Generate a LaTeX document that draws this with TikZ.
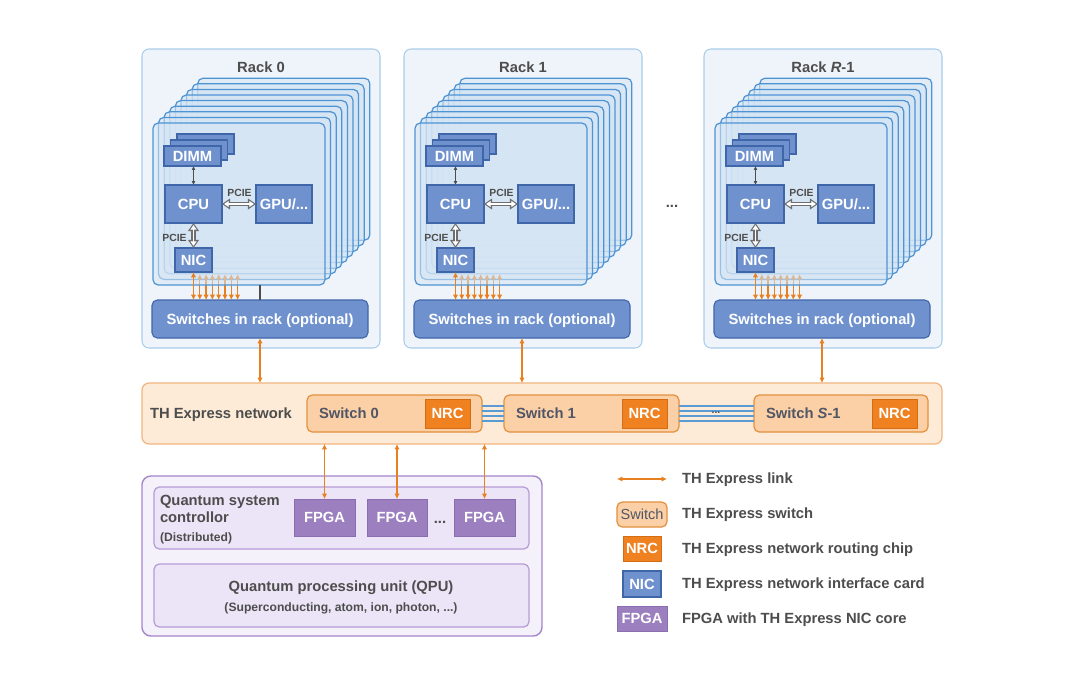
\documentclass[tikz,border=0pt]{standalone}
\usepackage{fontspec}
\setmainfont{Liberation Sans}
\usetikzlibrary{arrows.meta,fit}
\definecolor{txt}{HTML}{4D4D4D}
\definecolor{swtxt}{HTML}{505666}
\definecolor{rackfill}{HTML}{EEF4FA}
\definecolor{rackdraw}{HTML}{A9CDEB}
\definecolor{cardfill}{HTML}{D5E5F4}
\definecolor{carddraw}{HTML}{4E94D4}
\definecolor{bluefill}{HTML}{6F92CF}
\definecolor{bluedraw}{HTML}{3F66A9}
\definecolor{orangeA}{HTML}{E8801F}
\definecolor{netfill}{HTML}{FDEBD8}
\definecolor{netdraw}{HTML}{F2B47E}
\definecolor{swfill}{HTML}{FBD0A6}
\definecolor{swdraw}{HTML}{E3903F}
\definecolor{nrcfill}{HTML}{F08120}
\definecolor{nrcdraw}{HTML}{D46E14}
\definecolor{qfill}{HTML}{F5F1FA}
\definecolor{qdraw}{HTML}{A485CB}
\definecolor{qinfill}{HTML}{ECE4F7}
\definecolor{qindraw}{HTML}{B59CD7}
\definecolor{fpgafill}{HTML}{9B7FBE}
\definecolor{fpgadraw}{HTML}{8B6DB1}
\definecolor{linkblue}{HTML}{5B9BD5}
\definecolor{pciegray}{HTML}{6E6E6E}
\begin{document}
\begin{tikzpicture}[x=0.02cm,y=-0.02cm,
  every node/.style={inner sep=0pt,outer sep=0pt,text height=6pt,text depth=0pt},
  font=\fontsize{8.4}{10}\selectfont\bfseries, text=txt,
  sz/.style 2 args={minimum width=#1*0.02cm,minimum height=#2*0.02cm},
  ts/.style={font=\fontsize{5.9}{7}\selectfont\bfseries,text height=4.2pt},
  tm/.style={font=\fontsize{6.9}{8}\selectfont\bfseries,text height=4.9pt},
  rackbox/.style={draw=rackdraw,fill=rackfill,rounded corners=4pt,line width=0.6pt},
  card/.style={draw=carddraw,fill=cardfill,fill opacity=0.55,rounded corners=3pt,line width=0.7pt},
  comp/.style={draw=bluedraw,fill=bluefill,line width=0.6pt,text=white},
  rsw/.style={comp,rounded corners=3pt},
  netbox/.style={draw=netdraw,fill=netfill,rounded corners=4pt,line width=0.7pt},
  swbox/.style={draw=swdraw,fill=swfill,rounded corners=3pt,line width=0.7pt},
  nrc/.style={draw=nrcdraw,fill=nrcfill,line width=0.5pt,text=white},
  qouter/.style={draw=qdraw,fill=qfill,rounded corners=5pt,line width=0.8pt},
  qinner/.style={draw=qindraw,fill=qinfill,rounded corners=3pt,line width=0.7pt},
  fpga/.style={draw=fpgadraw,fill=fpgafill,line width=0.4pt,text=white},
  olink/.style={draw=orangeA,line width=0.7pt,{Latex[length=3pt,width=3pt]}-{Latex[length=3pt,width=3pt]}},
  thinarr/.style={draw=txt,line width=0.45pt,{Latex[length=2.2pt,width=2.2pt]}-{Latex[length=2.2pt,width=2.2pt]}},
  hollowA/.style={draw=pciegray,line width=2.6pt,{Triangle[length=4.6pt,width=6pt]}-{Triangle[length=4.6pt,width=6pt]}},
  hollowB/.style={draw=white,line width=1.1pt,shorten <=1.2pt,shorten >=1.2pt,{Triangle[length=2.6pt,width=3.4pt]}-{Triangle[length=2.6pt,width=3.4pt]}},
  link/.style={draw=linkblue,line width=0.6pt}]
\fill[white] (0,0) rectangle (1080,674);
\path[use as bounding box] (0,0) rectangle (1080,674);

% ---------- racks ----------
\foreach \ri/\dx/\ttl in {0/0/{Rack 0},1/262/{Rack 1},2/562/{Rack \textit{R}-1}}{
  \node[rackbox,fit={(142+\dx,49)(380+\dx,348)}] (rack\ri) {};
  \node (title\ri) at (261+\dx,67) {\ttl};
  \node[rsw,sz={216}{38}] (rsw\ri) at (260+\dx,319) {Switches in rack (optional)};
  \foreach \kk in {8,7,...,1}{
    \node[card,fit={(153+\dx+5.6*\kk,123-5.6*\kk)(325+\dx+5.6*\kk,285-5.6*\kk)}] (card\ri-\kk) {};
  }
  \foreach \kk in {1,...,7}{
    \coordinate (nicb\ri-\kk) at (193.5+\dx+6.3*\kk,274);
    \draw[olink] (nicb\ri-\kk) -- (nicb\ri-\kk |- rsw\ri.north);
  }
  \node[card,fit={(153+\dx,123)(325+\dx,285)}] (card\ri-0) {};
  \node[comp,fit={(177+\dx,134)(234+\dx,154)}] (dimmb\ri) {};
  \node[comp,fit={(170.5+\dx,140)(227.5+\dx,160)}] (dimmc\ri) {};
  \node[comp,sz={57}{20}] (dimm\ri) at (192.5+\dx,156) {DIMM};
  \node[comp,sz={57}{38}] (cpu\ri) at (193.5+\dx,204) {CPU};
  \node[comp,sz={56}{38}] (gpu\ri) at (284+\dx,204) {GPU/...};
  \node[comp,sz={37}{24}] (nic\ri) at (193.5+\dx,260) {NIC};
  \draw[thinarr] (dimm\ri.south -| nic\ri.north) -- (cpu\ri.north -| nic\ri.north);
  \draw[hollowA] (cpu\ri.east) -- (gpu\ri.west);
  \draw[hollowB] (cpu\ri.east) -- (gpu\ri.west);
  \draw[hollowA] (cpu\ri.south -| nic\ri.north) -- (nic\ri.north);
  \draw[hollowB] (cpu\ri.south -| nic\ri.north) -- (nic\ri.north);
  \node[ts] (pcieh\ri) at (239.5+\dx,192.5) {PCIE};
  \node[ts] (pciev\ri) at (174.5+\dx,238) {PCIE};
  \draw[olink] (nic\ri.south) -- (nic\ri.south |- rsw\ri.north);
}
\draw[draw=txt,line width=0.6pt] (rsw0.north) -- (rsw0.north |- card0-0.south);
\node (rdots) at (672,202) {...};

% ---------- network ----------
\node[netbox,fit={(142,383)(942,444)}] (net) {};
\node[anchor=west] (netlabel) at (150,413) {TH Express network};
\node[swbox,fit={(307,395)(482,432)}] (sw0) {};
\node[swbox,fit={(504,395)(679,432)}] (sw1) {};
\node[swbox,fit={(754,395)(928,432)}] (sw2) {};
\node[anchor=west,text=swtxt] (sw0t) at (319,413.5) {Switch 0};
\node[anchor=west,text=swtxt] (sw1t) at (516,413.5) {Switch 1};
\node[anchor=west,text=swtxt] (sw2t) at (766,413.5) {Switch \textit{S}-1};
\node[nrc,sz={45}{29}] (nrc0) at (447.5,413.5) {NRC};
\node[nrc,sz={45}{29}] (nrc1) at (644.5,413.5) {NRC};
\node[nrc,sz={45}{29}] (nrc2) at (894.5,413.5) {NRC};
\foreach \yy in {406,411,416,421}{
  \draw[link] (sw0.east |- 0,\yy) -- (sw1.west |- 0,\yy);
  \draw[link] (sw1.east |- 0,\yy) -- (sw2.west |- 0,\yy);
}
\node[ts] (swdots) at (716,410) {...};
\foreach \ri in {0,1,2}{
  \draw[olink] (rsw\ri.south) -- (rsw\ri.south |- net.north);
}

% ---------- quantum ----------
\node[qouter,fit={(142,476)(542,636)}] (qbox) {};
\node[qinner,fit={(154,487)(529,549)}] (qsc) {};
\node[anchor=west] (qsc1) at (160,500) {Quantum system};
\node[anchor=west] (qsc2) at (160,517) {controllor};
\node[tm,anchor=west] (qsc3) at (160,537) {(Distributed)};
\node[fpga,sz={61}{37}] (fpga1) at (324.5,517.5) {FPGA};
\node[fpga,sz={60}{37}] (fpga2) at (397,517.5) {FPGA};
\node[fpga,sz={61}{37}] (fpga3) at (484.5,517.5) {FPGA};
\node (fdots) at (440,518) {...};
\node[qinner,fit={(154,564)(529,627)}] (qpu) {};
\node (qpu1) at (341,586) {Quantum processing unit (QPU)};
\node[tm] (qpu2) at (341,607) {(Superconducting, atom, ion, photon, ...)};
\foreach \f in {1,2,3}{
  \draw[olink] (fpga\f.north |- net.south) -- (fpga\f.north);
}

% ---------- legend ----------
\coordinate (lgA) at (617,479);
\coordinate (lgB) at (667,479);
\draw[olink] (lgA) -- (lgB);
\node[swbox,sz={50}{25},font=\fontsize{8.3}{10}\selectfont,text=swtxt] (lgsw) at (642,514.5) {Switch};
\node[nrc,sz={38}{25}] (lgnrc) at (642,548.5) {NRC};
\node[comp,sz={38}{26}] (lgnic) at (642,584) {NIC};
\node[fpga,sz={50}{25}] (lgfpga) at (642,618.5) {FPGA};
\node[anchor=west] (lg1) at (682,478.5) {TH Express link};
\node[anchor=west] (lg2) at (682,513.5) {TH Express switch};
\node[anchor=west] (lg3) at (682,548.5) {TH Express network routing chip};
\node[anchor=west] (lg4) at (682,583.5) {TH Express network interface card};
\node[anchor=west] (lg5) at (682,618.5) {FPGA with TH Express NIC core};
\end{tikzpicture}
\end{document}
